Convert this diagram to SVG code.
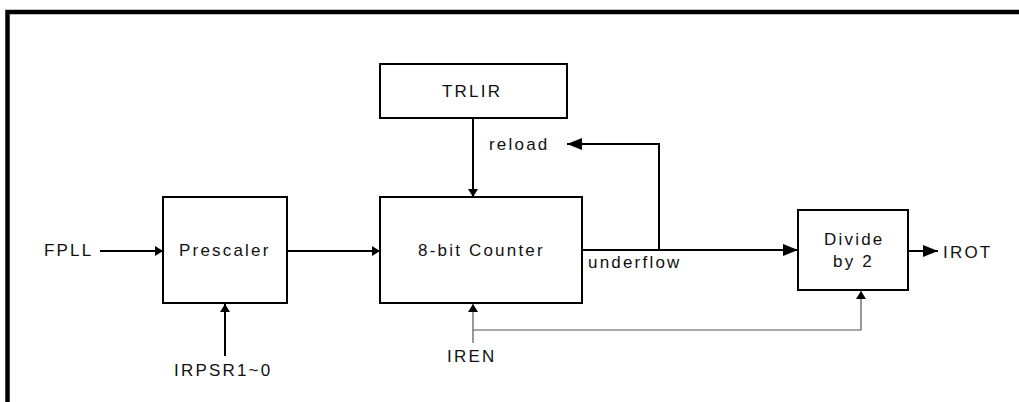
<svg xmlns="http://www.w3.org/2000/svg" width="1019" height="402" viewBox="0 0 1019 402">
<style>
.box{fill:#fff;stroke:#000;stroke-width:2}
.w{fill:none;stroke:#000;stroke-width:2}
.t{fill:none;stroke:#555;stroke-width:1.2}
text{font-family:"Liberation Sans",Arial,sans-serif;font-size:17px;letter-spacing:2.2px;fill:#111}
</style>
<defs>
<marker id="big" markerWidth="15" markerHeight="12" refX="15" refY="6" orient="auto" markerUnits="userSpaceOnUse"><path d="M0,0L15,6L0,12Z" fill="#000"/></marker>
<marker id="sm" markerWidth="8" markerHeight="10" refX="8" refY="5" orient="auto" markerUnits="userSpaceOnUse"><path d="M0,0L8,5L0,10Z" fill="#000"/></marker>
</defs>
<rect x="7.5" y="12" width="1100" height="500" fill="none" stroke="#000" stroke-width="4.5"/>
<g id="connectors">
<line class="w" x1="100" y1="251" x2="163" y2="251" marker-end="url(#sm)"/>
<line class="w" x1="287" y1="251" x2="380" y2="251" marker-end="url(#sm)"/>
<line class="w" x1="225" y1="356" x2="225" y2="304" marker-end="url(#sm)"/>
<line class="w" x1="473" y1="118" x2="473" y2="197" marker-end="url(#sm)"/>
<path class="w" d="M659,250V144H567" marker-end="url(#big)"/>
<line class="w" x1="582" y1="250" x2="798" y2="250" marker-end="url(#big)"/>
<line class="w" x1="908" y1="251" x2="938" y2="251" marker-end="url(#big)"/>
<line class="t" x1="473" y1="343" x2="473" y2="304" marker-end="url(#sm)"/>
<path class="t" d="M473,330H861V291" marker-end="url(#sm)"/>
</g>
<g id="prescaler"><rect class="box" x="163" y="197" width="124" height="106"/><text x="179" y="256">Prescaler</text></g>
<g id="trlir"><rect class="box" x="380" y="64" width="187" height="54"/><text x="442" y="97">TRLIR</text></g>
<g id="counter"><rect class="box" x="380" y="197" width="202" height="106"/><text x="418" y="256">8-bit Counter</text></g>
<g id="divide"><rect class="box" x="798" y="210" width="110" height="80"/><text x="824" y="245">Divide</text><text x="833" y="267">by 2</text></g>
<g id="labels">
<text x="44" y="256">FPLL</text>
<text x="174" y="376">IRPSR1~0</text>
<text x="489" y="150">reload</text>
<text x="588" y="268">underflow</text>
<text x="943" y="258">IROT</text>
<text x="447" y="362">IREN</text>
</g>
</svg>
